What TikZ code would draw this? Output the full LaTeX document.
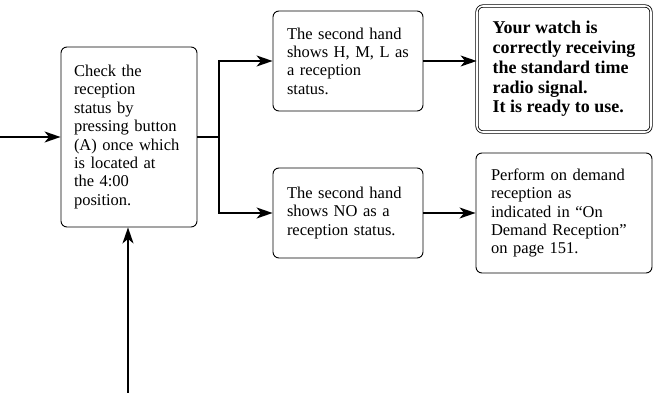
\documentclass[tikz,border=0pt]{standalone}
\usepackage{fontspec}
\setmainfont{Liberation Serif}
\usetikzlibrary{arrows.meta}
\begin{document}
\begin{tikzpicture}[x=1pt,y=-1pt,
  box/.style={draw=black, line width=0.9pt, rounded corners=6pt, align=left,
    inner xsep=14pt, font=\fontsize{16.5}{18.4}\selectfont},
  okbox/.style={box, double=white, double distance=1.6pt, line width=0.8pt,
    font=\fontsize{18}{19.8}\selectfont\bfseries},
  conn/.style={line width=1.4pt},
  arr/.style={conn, -{Stealth[length=16pt,width=11pt,inset=4.5pt]}}]
\useasboundingbox (0,0) rectangle (653,393);
\node[box, inner xsep=13pt, text width=110pt, minimum width=136pt, minimum height=180pt] (check) at (129,137)
  {Check the\\reception\\status by\\pressing button\\(A) once which\\is located at\\the 4:00\\position.};
\node[box, text width=122pt, minimum width=150pt, minimum height=100pt] (hml) at (348,61)
  {The second hand\\shows H, M, L as\\a reception\\status.};
\node[box, text width=122pt, minimum width=150pt, minimum height=90pt] (no) at (348,213)
  {The second hand\\shows NO as a\\reception status.};
\node[okbox, minimum width=174pt, minimum height=126pt] (ok) at (564,69)
  {Your watch is\\correctly receiving\\the standard time\\radio signal.\\It is ready to use.};
\node[box, inner xsep=15pt, text width=146pt, minimum width=176pt, minimum height=120pt] (demand) at (564,213)
  {Perform on demand\\reception as\\indicated in “On\\Demand Reception”\\on page 151.};
\coordinate (in) at (0,137);
\coordinate (up) at (128,393);
\coordinate (j) at (219,137);
\draw[arr] (in) -- (check.west);
\draw[arr] (up) -- (up |- check.south);
\draw[conn] (check.east) -- (j);
\draw[arr] (j) |- (hml.west);
\draw[arr] (j) |- (no.west);
\draw[arr] (hml.east) -- (hml.east -| ok.west);
\draw[arr] (no.east) -- (no.east -| demand.west);
\end{tikzpicture}
\end{document}
